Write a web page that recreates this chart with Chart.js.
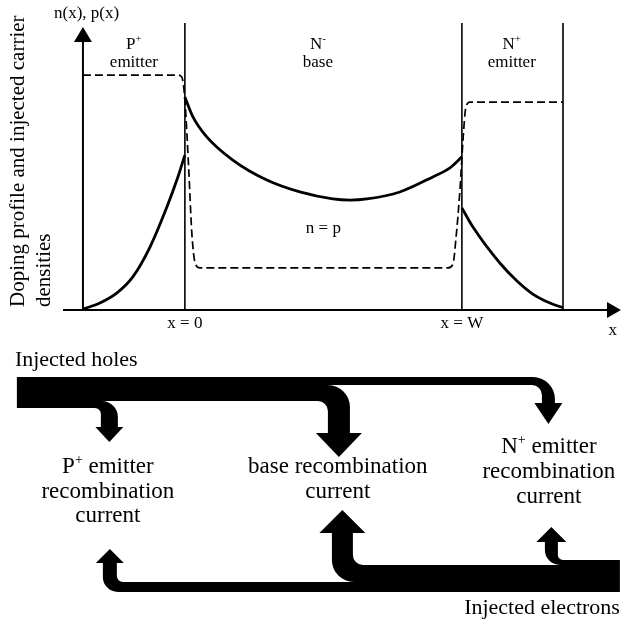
<!DOCTYPE html>
<html>
<head>
<meta charset="utf-8">
<script src="https://cdn.jsdelivr.net/npm/chart.js@4.4.1/dist/chart.umd.min.js"></script>
<style>
  html, body { margin: 0; padding: 0; background: #fff; }
  #wrap { position: relative; width: 622px; height: 621px; }
  canvas { position: absolute; left: 0; }
  #profile { top: 0; }
  #flows { top: 340px; }
</style>
</head>
<body>
<div id="wrap">
  <canvas id="profile" width="622" height="340"></canvas>
  <canvas id="flows" width="622" height="281"></canvas>
</div>
<script>
// ---- profile data (x in units of the base width W, y in arbitrary density units) ----
const regionEdges = [-0.368, 0, 1, 1.365]; // left contact, x = 0, x = W, right contact
const regionNames = [['P', '+', 'emitter'], ['N', '-', 'base'], ['N', '+', 'emitter']];
const edgeLabels = ['x = 0', 'x = W'];

// doping profile (dashed)
const dopingX = [-0.368, -0.025, -0.011, 0, 0.014, 0.025, 0.036, 0.054, 0.949, 0.968, 0.978, 0.993, 1.004, 1.014, 1.029, 1.365];
const dopingY = [8.10, 8.10, 8.03, 7.24, 4.83, 2.66, 1.66, 1.45, 1.45, 1.59, 2.41, 4.14, 5.86, 6.97, 7.17, 7.17];

// injected carrier densities (solid)
const pEmitterX = [-0.368, -0.307, -0.245, -0.188, -0.126, -0.065, -0.029, 0];
const pEmitterY = [0.03, 0.24, 0.59, 1.14, 2.17, 3.55, 4.48, 5.34];
const baseX = [0, 0.029, 0.079, 0.173, 0.296, 0.415, 0.534, 0.596, 0.657, 0.776, 0.895, 0.957, 1];
const baseY = [7.34, 6.66, 5.97, 5.17, 4.48, 4.07, 3.83, 3.79, 3.83, 4.07, 4.59, 4.90, 5.28];
const nEmitterX = [1, 1.040, 1.137, 1.199, 1.256, 1.318, 1.365];
const nEmitterY = [3.52, 2.86, 1.62, 1.0, 0.55, 0.24, 0.08];

// ---- current flow data ----
const sites = ['P+ emitter', 'base', 'N+ emitter'];
const holeCurrent = [7, 16, 8];
const electronCurrent = [10, 17, 5];

// ---- layout / style ----
const FONT = '"Liberation Serif", "Times New Roman", Times, serif';
const X_MIN = -0.44, X_MAX = 1.578;
const PAD_LEFT = 63;
const axisTop = 9.76;
const boundaryTop = 9.9;
const regionLabelX = [-0.184, 0.48, 1.18];

const pts = (xs, ys) => xs.map((v, i) => ({ x: v, y: ys[i] }));

function drawRich(ctx, parts, x, y, size, align) {
  // parts: [text, isSuperscript]
  const fontFor = sup => `${sup ? Math.round(size * 0.62) : size}px ${FONT}`;
  const widths = parts.map(([t, sup]) => { ctx.font = fontFor(sup); return ctx.measureText(t).width; });
  const total = widths.reduce((a, b) => a + b, 0);
  let cx = align === 'center' ? x - total / 2 : align === 'right' ? x - total : x;
  ctx.textAlign = 'left';
  ctx.textBaseline = 'alphabetic';
  parts.forEach(([t, sup], i) => {
    ctx.font = fontFor(sup);
    ctx.fillText(t, cx, sup ? y - size * 0.4 : y);
    cx += widths[i];
  });
}

const profileDecor = {
  id: 'profileDecor',
  afterDraw(chart) {
    const { ctx, chartArea, scales: { x, y } } = chart;
    const X = v => x.getPixelForValue(v), Y = v => y.getPixelForValue(v);
    ctx.save();
    ctx.fillStyle = '#000';
    ctx.strokeStyle = '#000';

    // axes with arrowheads
    const ax = X(regionEdges[0]), y0 = Y(0), yTop = Y(axisTop);
    const xTip = chartArea.right - 1;
    ctx.lineWidth = 2;
    ctx.beginPath();
    ctx.moveTo(ax, y0); ctx.lineTo(ax, yTop + 12);
    ctx.moveTo(chartArea.left, y0); ctx.lineTo(xTip - 12, y0);
    ctx.stroke();
    ctx.beginPath();
    ctx.moveTo(ax, yTop); ctx.lineTo(ax - 9, yTop + 15); ctx.lineTo(ax + 9, yTop + 15); ctx.closePath();
    ctx.moveTo(xTip, y0); ctx.lineTo(xTip - 14, y0 - 8); ctx.lineTo(xTip - 14, y0 + 8); ctx.closePath();
    ctx.fill();

    // axis texts
    drawRich(ctx, [['n(x), p(x)', false]], X(-0.355), Y(10.07), 17, 'center');
    drawRich(ctx, [['x', false]], X(1.545), Y(-0.86), 17, 'center');
    edgeLabels.forEach((t, i) => drawRich(ctx, [[t, false]], X(regionEdges[i + 1]), Y(-0.62), 17, 'center'));

    // region names
    regionNames.forEach(([a, sup, b], i) => {
      drawRich(ctx, [[a, false], [sup, true]], X(regionLabelX[i]), Y(9.0), 17, 'center');
      drawRich(ctx, [[b, false]], X(regionLabelX[i]), Y(8.38), 17, 'center');
    });
    drawRich(ctx, [['n = p', false]], X(0.5), Y(2.655), 17, 'center');

    // rotated y title
    ctx.save();
    ctx.translate(24, 307);
    ctx.rotate(-Math.PI / 2);
    ctx.font = `21px ${FONT}`;
    ctx.textAlign = 'left';
    ctx.fillText('Doping profile and injected carrier', 0, 0);
    ctx.fillText('densities', 0, 26);
    ctx.restore();
    ctx.restore();
  }
};

const solid = { borderColor: '#000', borderWidth: 2.8, pointRadius: 0, showLine: true, fill: false, cubicInterpolationMode: 'monotone' };

new Chart(document.getElementById('profile'), {
  type: 'scatter',
  data: {
    datasets: [
      { ...solid, label: 'P+ emitter carriers', data: pts(pEmitterX, pEmitterY) },
      { ...solid, label: 'base carriers', data: pts(baseX, baseY) },
      { ...solid, label: 'N+ emitter carriers', data: pts(nEmitterX, nEmitterY) },
      { label: 'doping', data: pts(dopingX, dopingY), borderColor: '#000', borderWidth: 1.7,
        borderDash: [8, 4], pointRadius: 0, showLine: true, fill: false, cubicInterpolationMode: 'monotone' },
      ...regionEdges.slice(1).map(e => ({
        label: 'edge', data: [{ x: e, y: 0 }, { x: e, y: boundaryTop }],
        borderColor: '#000', borderWidth: 1.6, pointRadius: 0, showLine: true
      }))
    ]
  },
  options: {
    responsive: false,
    animation: false,
    layout: { padding: { left: PAD_LEFT, right: 0, top: 20, bottom: 30 } },
    plugins: { legend: { display: false }, tooltip: { enabled: false } },
    scales: {
      x: { type: 'linear', display: false, min: X_MIN, max: X_MAX },
      y: { type: 'linear', display: false, min: 0, max: 10 }
    }
  },
  plugins: [profileDecor]
});

// ---- flow diagram ----
const holeTrunk = { x: -0.6065, y: 37 };
const electronTrunk = { x: 1.5704, y: 252 };
const holeStems = [
  { x: -0.2726, w: 17, ro: 16, ri: 6, base: 87, aw: 28, ah: 15 },
  { x: 0.556, w: 22, ro: 22, ri: 10, base: 93, aw: 46, ah: 24 },
  { x: 1.3123, w: 13, ro: 22, ri: 10, base: 63, aw: 28, ah: 21 }
];
const electronStems = [
  { x: -0.2708, w: 14, ro: 15, ri: 6, base: 223, aw: 28, ah: 14 },
  { x: 0.5686, w: 21, ro: 22, ri: 10, base: 193, aw: 46, ah: 23 },
  { x: 1.3231, w: 13, ro: 15, ri: 5, base: 202, aw: 30, ah: 15 }
];
const siteLabels = [
  { x: -0.278, lines: [[['P', false], ['+', true], [' emitter', false]], [['recombination', false]], [['current', false]]], y: [133, 157.5, 182] },
  { x: 0.552, lines: [[['base recombination', false]], [['current', false]]], y: [133, 158] },
  { x: 1.314, lines: [[['N', false], ['+', true], [' emitter', false]], [['recombination', false]], [['current', false]]], y: [113, 138, 163] }
];

const flowDiagram = {
  id: 'flowDiagram',
  afterDraw(chart) {
    const { ctx, scales: { x, y } } = chart;
    const X = v => x.getPixelForValue(v), Y = v => y.getPixelForValue(v);
    ctx.save();
    ctx.fillStyle = '#000';

    // injected holes: enter left, topmost layer travels farthest
    let top = holeTrunk.y;
    const hx0 = X(holeTrunk.x);
    for (let i = sites.length - 1; i >= 0; i--) {
      const s = holeStems[i];
      const yt = Y(top), yb = Y(top + holeCurrent[i]);
      const cx = X(s.x), xl = cx - s.w / 2, xr = cx + s.w / 2, ya = Y(s.base);
      ctx.beginPath();
      ctx.moveTo(hx0, yt);
      ctx.lineTo(xr - s.ro, yt);
      ctx.arc(xr - s.ro, yt + s.ro, s.ro, -Math.PI / 2, 0);
      ctx.lineTo(xr, ya + 1);
      ctx.lineTo(xl, ya + 1);
      ctx.lineTo(xl, yb + s.ri);
      ctx.arc(xl - s.ri, yb + s.ri, s.ri, 0, -Math.PI / 2, true);
      ctx.lineTo(hx0, yb);
      ctx.closePath();
      ctx.fill();
      ctx.beginPath();
      ctx.moveTo(cx - s.aw / 2, ya); ctx.lineTo(cx + s.aw / 2, ya); ctx.lineTo(cx, ya + s.ah);
      ctx.closePath();
      ctx.fill();
      top += holeCurrent[i];
    }

    // injected electrons: enter right, bottom layer travels farthest
    let bottom = electronTrunk.y;
    const ex0 = X(electronTrunk.x);
    for (let i = 0; i < sites.length; i++) {
      const s = electronStems[i];
      const yb = Y(bottom), yt = Y(bottom - electronCurrent[i]);
      const cx = X(s.x), xl = cx - s.w / 2, xr = cx + s.w / 2, ya = Y(s.base);
      ctx.beginPath();
      ctx.moveTo(ex0, yb);
      ctx.lineTo(xl + s.ro, yb);
      ctx.arc(xl + s.ro, yb - s.ro, s.ro, Math.PI / 2, Math.PI);
      ctx.lineTo(xl, ya - 1);
      ctx.lineTo(xr, ya - 1);
      ctx.lineTo(xr, yt - s.ri);
      ctx.arc(xr + s.ri, yt - s.ri, s.ri, Math.PI, Math.PI / 2, true);
      ctx.lineTo(ex0, yt);
      ctx.closePath();
      ctx.fill();
      ctx.beginPath();
      ctx.moveTo(cx - s.aw / 2, ya); ctx.lineTo(cx + s.aw / 2, ya); ctx.lineTo(cx, ya - s.ah);
      ctx.closePath();
      ctx.fill();
      bottom -= electronCurrent[i];
    }

    // texts
    drawRich(ctx, [['Injected holes', false]], X(-0.6137), Y(26), 22, 'left');
    drawRich(ctx, [['Injected electrons', false]], X(1.5704), Y(274), 22, 'right');
    siteLabels.forEach(l => l.lines.forEach((parts, j) => drawRich(ctx, parts, X(l.x), Y(l.y[j]), 23, 'center')));
    ctx.restore();
  }
};

new Chart(document.getElementById('flows'), {
  type: 'scatter',
  data: { datasets: [] },
  options: {
    responsive: false,
    animation: false,
    layout: { padding: { left: PAD_LEFT, right: 0, top: 0, bottom: 0 } },
    plugins: { legend: { display: false }, tooltip: { enabled: false } },
    scales: {
      x: { type: 'linear', display: false, min: X_MIN, max: X_MAX },
      y: { type: 'linear', display: false, min: 0, max: 281, reverse: true }
    }
  },
  plugins: [flowDiagram]
});
</script>
</body>
</html>
